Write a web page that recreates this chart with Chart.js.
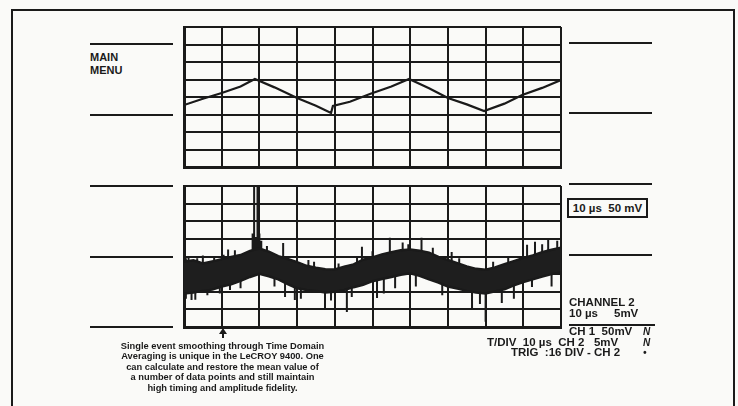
<!DOCTYPE html>
<html lang="en">
<head>
<meta charset="UTF-8" />
<meta name="viewport" content="width=device-width, initial-scale=1" />
<title>Time Domain Averaging</title>
<script src="https://cdn.jsdelivr.net/npm/chart.js"></script>
<style>
  body { margin: 0; background: #fafaf8; }
  .page { position: relative; width: 738px; height: 406px; overflow: hidden;
          font-family: "Liberation Sans", Arial, sans-serif; font-weight: bold; color: #1a1a1a; }
  .frame { position: absolute; left: 11px; top: 9px; width: 720px; height: 420px; border: 2px solid #1a1a1a; }
  .rule { position: absolute; height: 2px; width: 83px; background: #1a1a1a; }
  .txt { position: absolute; white-space: pre; }
  .pane { position: absolute; left: 182px; width: 381px; }
  .box { position: absolute; left: 567px; top: 198px; width: 77px; height: 16px; border: 2px solid #1a1a1a;
         font-size: 11.5px; line-height: 16px; text-align: center; white-space: pre; }
  .caption { position: absolute; left: 95px; top: 341px; width: 255px; text-align: center;
             font-size: 9.3px; line-height: 10.4px; }
  .arrow { position: absolute; left: 219px; top: 328px; width: 0; height: 0;
           border-left: 4px solid transparent; border-right: 4px solid transparent; border-bottom: 6px solid #1a1a1a; }
  .stem { position: absolute; left: 222px; top: 333px; width: 2px; height: 5px; background: #1a1a1a; }
</style>
</head>
<body>
<div class="page">
  <div class="frame"></div>

  <div class="rule" style="left:90px;top:43px"></div>
  <div class="rule" style="left:90px;top:114px"></div>
  <div class="rule" style="left:90px;top:185px"></div>
  <div class="rule" style="left:90px;top:256px"></div>
  <div class="rule" style="left:90px;top:326px"></div>

  <div class="rule" style="left:569px;top:42px"></div>
  <div class="rule" style="left:569px;top:112px"></div>
  <div class="rule" style="left:569px;top:183px"></div>
  <div class="rule" style="left:569px;top:254px"></div>
  <div class="rule" style="left:569px;top:324px;width:86px"></div>

  <div class="txt" style="left:90px;top:51px;font-size:11px;line-height:12.5px">MAIN
MENU</div>

  <div class="pane" style="top:25px;height:144px"><canvas id="topScope"></canvas></div>
  <div class="pane" style="top:184px;height:145px"><canvas id="bottomScope"></canvas></div>

  <div class="box">10 µs  50 mV</div>

  <div class="txt" style="left:569px;top:297px;font-size:11.5px;line-height:10.5px">CHANNEL 2
10 µs     5mV</div>
  <div class="txt" style="left:569px;top:326px;font-size:11.5px;line-height:10.6px">CH 1  50mV</div>
  <div class="txt" style="left:487px;top:336.6px;font-size:11.5px;line-height:10.6px">T/DIV  10 µs  CH 2   5mV</div>
  <div class="txt" style="left:511px;top:347.2px;font-size:11.5px;line-height:10.6px">TRIG  :16 DIV - CH 2</div>
  <div class="txt" style="left:643px;top:327px;font-size:10px;line-height:10.6px;font-style:italic">N
N
•</div>

  <div class="arrow"></div>
  <div class="stem"></div>
  <div class="caption">Single event smoothing through Time Domain<br>Averaging is unique in the LeCROY 9400. One<br>can calculate and restore the mean value of<br>a number of data points and still maintain<br>high timing and amplitude fidelity.</div>
</div>

<script>
  // channel 1: triangle reference trace (time in div, level in div)
  const topTime  = [0, 0.5, 1, 1.5, 1.88, 2.4, 3, 3.5, 3.9, 3.95, 4.4, 4.93, 5.5, 5.97, 6.5, 7, 7.5, 7.96, 8.5, 8.97, 9.5, 10];
  const topLevel = [3.54, 3.9, 4.23, 4.6, 5.03, 4.55, 3.94, 3.5, 3.09, 3.49, 3.73, 4.17, 4.6, 5.03, 4.5, 3.94, 3.58, 3.2, 3.62, 4.11, 4.52, 4.97];

  // channel 2: noisy band, upper and lower edges
  const bandTime  = [0, 0.25, 0.5, 0.75, 1, 1.25, 1.5, 1.75, 2, 2.25, 2.5, 2.75, 3, 3.25, 3.5, 3.75, 4, 4.25, 4.5, 4.75,
                     5, 5.25, 5.5, 5.75, 6, 6.25, 6.5, 6.75, 7, 7.25, 7.5, 7.75, 8, 8.25, 8.5, 8.75, 9, 9.25, 9.5, 9.75, 10];
  const bandUpper = [3.7, 3.78, 3.6, 3.72, 3.85, 3.98, 4.08, 4.32, 4.45, 4.28, 4.02, 3.86, 3.68, 3.47, 3.36, 3.28, 3.26, 3.42, 3.55, 3.82,
                     3.95, 4.12, 4.24, 4.36, 4.4, 4.33, 4.22, 3.98, 3.8, 3.62, 3.44, 3.3, 3.25, 3.38, 3.57, 3.74, 3.92, 4.06, 4.24, 4.38, 4.5];
  const bandLower = [1.9, 1.96, 2.05, 2.12, 2.3, 2.42, 2.62, 2.84, 3.02, 2.88, 2.7, 2.44, 2.2, 2.1, 2.04, 1.96, 2.0, 2.1, 2.26, 2.4,
                     2.6, 2.72, 2.84, 2.96, 3.05, 2.9, 2.7, 2.52, 2.3, 2.18, 2.05, 1.95, 1.9, 2.02, 2.14, 2.36, 2.55, 2.7, 2.86, 3.0, 3.1];

  // channel 2: isolated glitches
  const spikeTime = [0.05, 0.12, 0.2, 0.3, 0.35, 0.5, 0.62, 0.8, 0.95, 1.05, 1.17, 1.22, 1.35, 1.5, 1.75, 1.82, 1.86, 1.9, 1.95, 2.0,
                     2.05, 2.2, 2.4, 2.63, 2.68, 2.76, 2.94, 3.1, 3.3, 3.45, 3.74, 3.9, 4.1, 4.32, 4.45, 4.59, 4.72, 5.0, 5.12, 5.3,
                     5.46, 5.6, 5.8, 5.95, 6.15, 6.3, 6.6, 6.85, 7.1, 7.3, 7.64, 7.85, 8.0, 8.2, 8.43, 8.6, 8.75, 9.1, 9.23, 9.31,
                     9.5, 9.66, 9.75, 9.9];
  const spikeLow  = [1.6, 3.0, 1.53, 1.55, 3.0, 3.0, 1.8, 3.2, 1.9, 3.3, 3.2, 2.1, 3.3, 2.2, 2.95, 3.5, 3.5, 3.5, 3.5, 3.5,
                     3.5, 3.5, 2.3, 3.5, 1.7, 3.3, 1.53, 1.6, 3.2, 2.8, 1.08, 1.5, 3.0, 0.85, 1.7, 3.0, 3.2, 3.5, 1.65, 1.9,
                     3.5, 2.2, 3.6, 3.8, 2.3, 3.5, 3.7, 1.8, 3.3, 3.2, 0.97, 1.3, 0.3, 3.0, 1.36, 3.3, 1.6, 3.4, 2.27, 3.5,
                     3.8, 3.7, 2.3, 3.8];
  const spikeHigh = [3.9, 4.0, 2.3, 2.3, 3.9, 4.05, 2.3, 3.95, 2.5, 4.1, 4.4, 2.8, 4.35, 2.8, 3.4, 5.3, 8.0, 5.1, 8.0, 5.3,
                     4.9, 4.6, 2.9, 4.77, 2.8, 3.8, 2.5, 2.4, 3.8, 3.7, 2.3, 2.2, 3.6, 2.3, 2.4, 3.95, 4.55, 4.3, 2.8, 2.8,
                     5.06, 3.0, 4.8, 4.7, 3.0, 5.06, 4.5, 2.6, 4.26, 3.9, 2.3, 2.1, 2.2, 3.7, 2.3, 4.0, 2.4, 4.66, 2.9, 4.83,
                     4.7, 4.94, 3.0, 4.9];

  const ink = '#1a1a1a';

  function scopeOptions() {
    const axis = (max) => ({
      type: 'linear', min: 0, max: max,
      ticks: { stepSize: 1, display: false },
      grid: { color: ink, lineWidth: 2, drawTicks: false },
      border: { display: true, color: ink, width: 3 }
    });
    return {
      responsive: true,
      maintainAspectRatio: false,
      animation: false,
      layout: { padding: 2 },
      plugins: { legend: { display: false }, tooltip: { enabled: false } },
      scales: { x: axis(10), y: axis(8) }
    };
  }

  new Chart(document.getElementById('topScope'), {
    type: 'line',
    data: {
      datasets: [{
        data: topTime.map((t, i) => ({ x: t, y: topLevel[i] })),
        borderColor: ink, borderWidth: 2.2, pointRadius: 0, tension: 0
      }]
    },
    options: scopeOptions()
  });

  const spikeData = [];
  spikeTime.forEach((t, i) => {
    spikeData.push({ x: t, y: spikeLow[i] }, { x: t, y: spikeHigh[i] }, { x: t, y: null });
  });

  new Chart(document.getElementById('bottomScope'), {
    type: 'line',
    data: {
      datasets: [
        {
          data: bandTime.map((t, i) => ({ x: t, y: bandUpper[i] })),
          borderColor: ink, borderWidth: 2.5, pointRadius: 0, tension: 0, fill: false
        },
        {
          data: bandTime.map((t, i) => ({ x: t, y: bandLower[i] })),
          borderColor: ink, borderWidth: 2.5, pointRadius: 0, tension: 0,
          fill: '-1', backgroundColor: '#1e1e1e'
        },
        {
          data: spikeData,
          borderColor: ink, borderWidth: 2, pointRadius: 0, spanGaps: false
        }
      ]
    },
    options: scopeOptions()
  });
</script>
</body>
</html>
